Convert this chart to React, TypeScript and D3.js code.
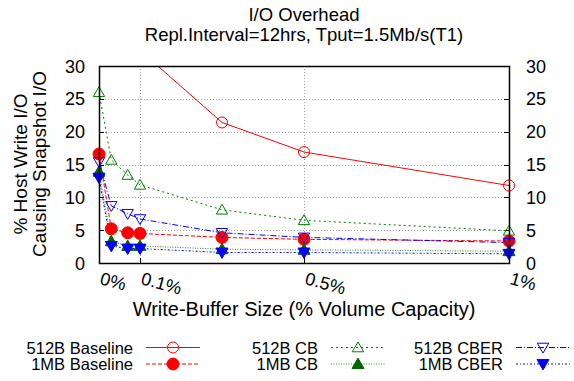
import React, { useEffect, useRef } from "react";
import * as d3 from "d3";

// write-buffer size, % of volume capacity
const bufferSizes = [0, 0.03, 0.07, 0.1, 0.3, 0.5, 1];

const base512 = [75, 48, 38, 32.4, 21.4, 16.9, 11.8];
const base1M = [16.6, 5.2, 4.6, 4.5, 3.9, 3.6, 3.35];
const cb512 = [26.0, 15.7, 13.4, 11.9, 8.1, 6.5, 4.9];
const cb1M = [13.9, 3.3, 2.6, 2.6, 2.1, 2.0, 1.8];
const cber512 = [15.4, 8.7, 7.5, 6.7, 4.6, 3.9, 3.1];
const cber1M = [13.0, 2.6, 2.2, 2.2, 1.6, 1.6, 1.4];

const yTicks = [0, 5, 10, 15, 20, 25, 30];
const xTicks = [0, 0.1, 0.5, 1];
const xTickLabels = ["0%", "0.1%", "0.5%", "1%"];

type Marker = "circle" | "tri" | "itri";

interface Series {
  name: string;
  values: number[];
  color: string;
  lineColor: string;
  dash: string;
  marker: Marker;
  filled: boolean;
}

const series: Series[] = [
  { name: "512B Baseline", values: base512, color: "#ff0000", lineColor: "#ff0000", dash: "none", marker: "circle", filled: false },
  { name: "1MB Baseline", values: base1M, color: "#ff0000", lineColor: "#ff0000", dash: "4,2", marker: "circle", filled: true },
  { name: "512B CB", values: cb512, color: "#008000", lineColor: "#008000", dash: "2,3", marker: "tri", filled: false },
  { name: "1MB CB", values: cb1M, color: "#006400", lineColor: "#2e8b2e", dash: "1,1.5", marker: "tri", filled: true },
  { name: "512B CBER", values: cber512, color: "#0000ff", lineColor: "#0000ff", dash: "6,2,1,2", marker: "itri", filled: false },
  { name: "1MB CBER", values: cber1M, color: "#0000ff", lineColor: "#0000ff", dash: "2,2,1,2", marker: "itri", filled: true },
];

const FONT = "'Liberation Sans', Arial, sans-serif";

export default function App() {
  const svgRef = useRef<SVGSVGElement>(null);

  useEffect(() => {
    if (!svgRef.current) return;
    const svg = d3.select(svgRef.current);
    svg.selectAll("*").remove();

    const left = 99, right = 509, top = 66, bottom = 263;
    const x = d3.scaleLinear().domain([0, 1]).range([left, right]);
    const y = d3.scaleLinear().domain([0, 30]).range([bottom, top]);

    svg.style("font-family", FONT);

    // title
    const title = svg.append("text").attr("x", 304).attr("text-anchor", "middle").attr("font-size", 18.5).attr("fill", "#000");
    title.append("tspan").attr("x", 304).attr("y", 21).text("I/O Overhead");
    title.append("tspan").attr("x", 304).attr("y", 41).text("Repl.Interval=12hrs, Tput=1.5Mb/s(T1)");

    // grid
    const grid = svg.append("g").attr("stroke", "#a0a0a0").attr("stroke-width", 1).attr("stroke-dasharray", "1,2");
    yTicks.filter((t) => t > 0 && t < 30).forEach((t) => {
      grid.append("line").attr("x1", left).attr("x2", right).attr("y1", Math.round(y(t)) + 0.5).attr("y2", Math.round(y(t)) + 0.5);
    });
    xTicks.filter((t) => t > 0 && t < 1).forEach((t) => {
      grid.append("line").attr("y1", top).attr("y2", bottom).attr("x1", Math.round(x(t)) + 0.5).attr("x2", Math.round(x(t)) + 0.5);
    });

    // ticks
    const ticks = svg.append("g").attr("stroke", "#000").attr("stroke-width", 1);
    yTicks.forEach((t) => {
      const yy = Math.round(y(t)) + 0.5;
      ticks.append("line").attr("x1", left).attr("x2", left + 5).attr("y1", yy).attr("y2", yy);
      ticks.append("line").attr("x1", right - 5).attr("x2", right).attr("y1", yy).attr("y2", yy);
    });
    xTicks.forEach((t) => {
      const xx = Math.round(x(t)) + 0.5;
      ticks.append("line").attr("x1", xx).attr("x2", xx).attr("y1", bottom).attr("y2", bottom - 5);
    });

    // tick labels
    const yl = svg.append("g").attr("font-size", 18).attr("fill", "#000");
    yTicks.forEach((t) => {
      yl.append("text").attr("x", 85).attr("y", y(t) + 6.5).attr("text-anchor", "end").text(String(t));
      yl.append("text").attr("x", 526).attr("y", y(t) + 6.5).attr("text-anchor", "start").text(String(t));
    });
    xTicks.forEach((t, i) => {
      yl.append("text")
        .attr("transform", `translate(${x(t)},${284}) rotate(15)`)
        .attr("text-anchor", "start")
        .text(xTickLabels[i]);
    });

    // axis titles
    const ylab = svg.append("text").attr("font-size", 19).attr("text-anchor", "middle").attr("transform", `translate(27,164) rotate(-90)`);
    ylab.append("tspan").attr("x", 0).attr("y", 0).text("% Host Write I/O");
    ylab.append("tspan").attr("x", 0).attr("y", 18.5).text("Causing Snapshot I/O");
    svg.append("text").attr("x", 304).attr("y", 316).attr("text-anchor", "middle").attr("font-size", 20).text("Write-Buffer Size (% Volume Capacity)");

    // clip for lines
    svg.append("defs").append("clipPath").attr("id", "plotclip")
      .append("rect").attr("x", left).attr("y", top).attr("width", right - left).attr("height", bottom - top);

    const drawMarker = (g: any, s: Series, cx: number, cy: number) => {
      if (s.marker === "circle") {
        g.append("circle").attr("cx", cx).attr("cy", cy).attr("r", s.filled ? 6 : 5.5)
          .attr("fill", s.filled ? s.color : "none").attr("stroke", s.color).attr("stroke-width", 1);
      } else {
        const rot = s.marker === "itri" ? 180 : 0;
        const d = d3.symbol().type(d3.symbolTriangle).size(s.filled ? 62 : 56)() as string;
        g.append("path").attr("d", d)
          .attr("transform", `translate(${cx},${cy + (s.marker === "itri" ? -1 : 1)}) rotate(${rot})`)
          .attr("fill", s.filled ? s.color : "none").attr("stroke", s.color).attr("stroke-width", 1);
      }
    };

    const line = d3.line<number>().x((_, i) => x(bufferSizes[i])).y((d) => y(d));

    const plot = svg.append("g");
    series.forEach((s) => {
      plot.append("path").attr("d", line(s.values) as string)
        .attr("clip-path", "url(#plotclip)")
        .attr("fill", "none").attr("stroke", s.lineColor).attr("stroke-width", 1)
        .attr("stroke-dasharray", s.dash);
    });
    series.forEach((s) => {
      const g = plot.append("g");
      s.values.forEach((v, i) => {
        if (v > 30) return;
        drawMarker(g, s, x(bufferSizes[i]), y(v));
      });
    });

    // border
    svg.append("rect").attr("x", left + 0.5).attr("y", top + 0.5).attr("width", right - left).attr("height", bottom - top)
      .attr("fill", "none").attr("stroke", "#000").attr("stroke-width", 1.5);

    // legend
    const legend = svg.append("g").attr("font-size", 16.5);
    series.forEach((s, i) => {
      const col = Math.floor(i / 2), row = i % 2;
      const tx = 133 + col * 185;
      const ty = 347.5 + row * 16.5;
      legend.append("text").attr("x", tx).attr("y", ty + 6).attr("text-anchor", "end").text(s.name);
      legend.append("line").attr("x1", tx + 13).attr("x2", tx + 67).attr("y1", ty).attr("y2", ty)
        .attr("stroke", s.lineColor).attr("stroke-width", 1).attr("stroke-dasharray", s.dash);
      drawMarker(legend, s, tx + 40, ty);
    });
  }, []);

  return (
    <div style={{ position: "fixed", left: 0, top: 0 }}>
      <svg ref={svgRef} width={574} height={381} style={{ display: "block", background: "#fff" }} />
    </div>
  );
}
